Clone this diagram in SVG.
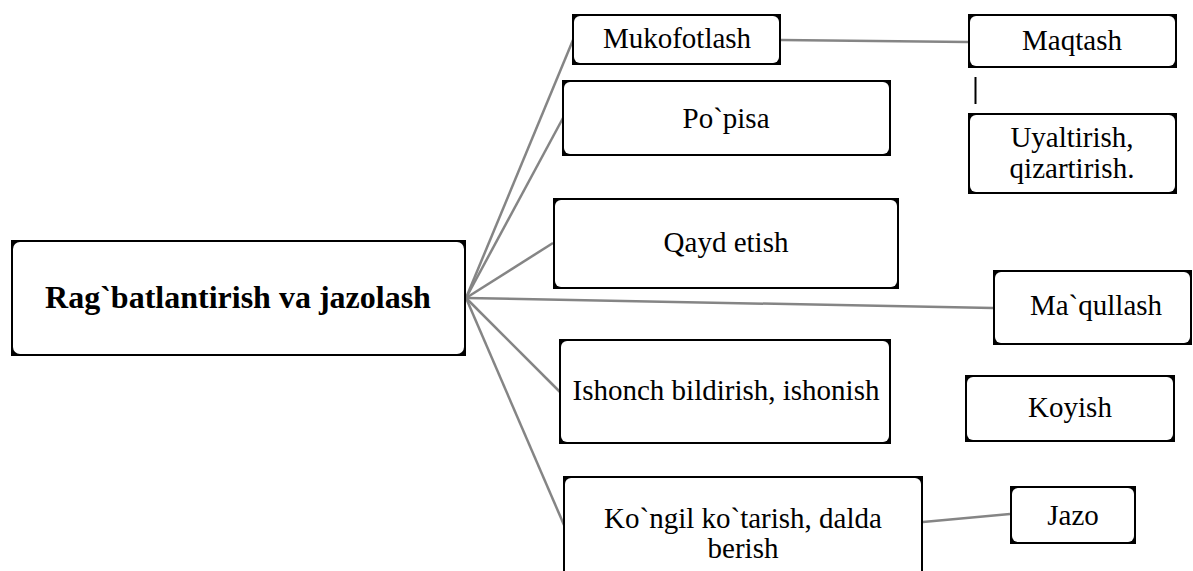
<svg xmlns="http://www.w3.org/2000/svg" width="1193" height="571" viewBox="0 0 1193 571">
<style>
.bo{fill:#000}
.bi{fill:#fff}
.t{font-family:"Liberation Serif","Times New Roman",serif;font-size:29px;fill:#000;text-anchor:middle}
.tb{font-family:"Liberation Serif","Times New Roman",serif;font-size:32px;font-weight:bold;fill:#000;text-anchor:middle}
.c{stroke:#858585;stroke-width:2.5;fill:none}
</style>
<rect width="1193" height="571" fill="#fff"/>
<g id="connectors">
<line class="c" x1="466" y1="298" x2="573" y2="40"/>
<line class="c" x1="466" y1="298" x2="563" y2="118"/>
<line class="c" x1="466" y1="298" x2="553" y2="243"/>
<line class="c" x1="466" y1="298" x2="993" y2="308"/>
<line class="c" x1="466" y1="298" x2="560" y2="392"/>
<line class="c" x1="466" y1="298" x2="564" y2="525"/>
<line class="c" x1="781" y1="40" x2="968" y2="42"/>
<line class="c" x1="923" y1="522" x2="1010" y2="514"/>
<line x1="975.5" y1="77" x2="975.5" y2="104" stroke="#000" stroke-width="2"/>
</g>
<g id="n-main">
<rect class="bo" x="11" y="240" width="455" height="116"/>
<rect class="bi" x="13" y="242" width="451" height="112" rx="7"/>
<text class="tb" x="238" y="308">Rag`batlantirish va jazolash</text>
</g>
<g id="n-mukofotlash">
<rect class="bo" x="572" y="14" width="209" height="51"/>
<rect class="bi" x="574" y="16" width="205" height="47" rx="6"/>
<text class="t" x="677" y="48">Mukofotlash</text>
</g>
<g id="n-popisa">
<rect class="bo" x="562" y="80" width="329" height="76"/>
<rect class="bi" x="564" y="82" width="325" height="72" rx="6"/>
<text class="t" x="726" y="128">Po`pisa</text>
</g>
<g id="n-qayd">
<rect class="bo" x="553" y="198" width="346" height="91"/>
<rect class="bi" x="555" y="200" width="342" height="87" rx="6"/>
<text class="t" x="726" y="252">Qayd etish</text>
</g>
<g id="n-maqullash">
<rect class="bo" x="993" y="270" width="199" height="75"/>
<rect class="bi" x="995" y="272" width="195" height="71" rx="6"/>
<text class="t" x="1096" y="315">Ma`qullash</text>
</g>
<g id="n-ishonch">
<rect class="bo" x="559" y="339" width="332" height="105"/>
<rect class="bi" x="561" y="341" width="328" height="101" rx="6"/>
<text class="t" x="726" y="400">Ishonch bildirish, ishonish</text>
</g>
<g id="n-kongil">
<rect class="bo" x="563" y="476" width="360" height="111"/>
<rect class="bi" x="565" y="478" width="356" height="107" rx="6"/>
<text class="t" x="743" y="528">Ko`ngil ko`tarish, dalda</text>
<text class="t" x="743" y="558">berish</text>
</g>
<g id="n-maqtash">
<rect class="bo" x="968" y="14" width="209" height="54"/>
<rect class="bi" x="970" y="16" width="205" height="50" rx="6"/>
<text class="t" x="1072" y="50">Maqtash</text>
</g>
<g id="n-uyaltirish">
<rect class="bo" x="968" y="113" width="209" height="81"/>
<rect class="bi" x="970" y="115" width="205" height="77" rx="6"/>
<text class="t" x="1072" y="147">Uyaltirish,</text>
<text class="t" x="1072" y="178">qizartirish.</text>
</g>
<g id="n-koyish">
<rect class="bo" x="965" y="375" width="210" height="67"/>
<rect class="bi" x="967" y="377" width="206" height="63" rx="6"/>
<text class="t" x="1070" y="417">Koyish</text>
</g>
<g id="n-jazo">
<rect class="bo" x="1010" y="486" width="126" height="58"/>
<rect class="bi" x="1012" y="488" width="122" height="54" rx="6"/>
<text class="t" x="1073" y="525">Jazo</text>
</g>
</svg>
